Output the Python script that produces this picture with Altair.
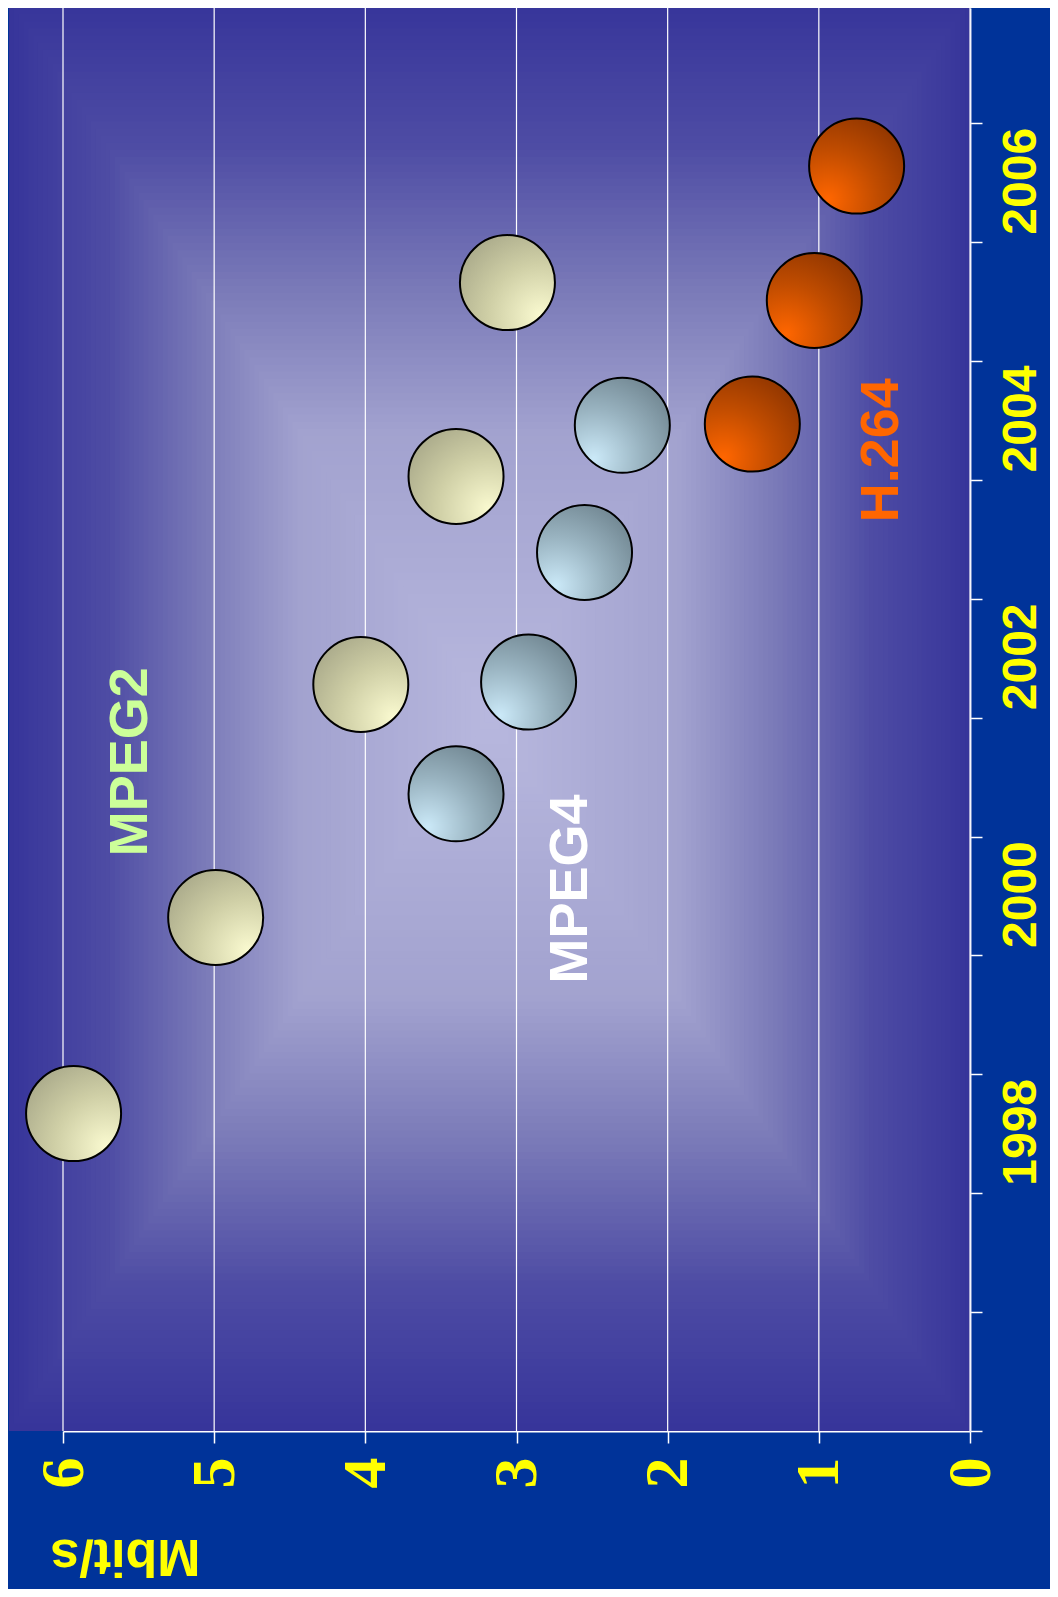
import altair as alt
import pandas as pd

# ---- data ----
mpeg2_rate = [5.93, 4.99, 4.03, 3.40, 3.06]
mpeg2_year = [1998.67, 2000.32, 2002.28, 2004.03, 2005.66]
mpeg4_rate = [3.40, 2.92, 2.55, 2.30]
mpeg4_year = [2001.36, 2002.30, 2003.39, 2004.46]
h264_rate = [1.44, 1.03, 0.75]
h264_year = [2004.47, 2005.51, 2006.64]

label_text = ["MPEG2", "MPEG4", "H.264"]
label_rate = [5.55, 2.64, 0.58]
label_year = [2001.63, 2000.56, 2004.25]
label_color = ["#ccff99", "#ffffff", "#ff6600"]

rate_ticks = [0, 1, 2, 3, 4, 5, 6]
year_ticks = list(range(1996, 2008))
year_labels = [1998, 2000, 2002, 2004, 2006]

YELLOW = "#ffff00"

x_axis = alt.Axis(
    values=rate_ticks, format="d", title="Mbit/s", grid=False,
    domainColor="#ffffff", domainWidth=2, tickColor="#ffffff", tickWidth=1.5, tickSize=12,
    labelFont="Liberation Serif", labelFontWeight="bold", labelFontSize=62, labelColor=YELLOW,
    labelAngle=270, labelAlign="right", labelBaseline="middle", labelPadding=14,
    labelFlush=False, labelOverlap=False, labelBound=False,
    titleFont="Liberation Sans", titleFontWeight="bold", titleFontSize=52, titleColor=YELLOW,
    titleAngle=180, titleAlign="center", titleBaseline="middle", titleX=62, titleY=124,
)
y_axis = alt.Axis(
    orient="right", values=year_ticks, format="d",
    labelExpr="indexof(" + str(year_labels) + ", datum.value) >= 0 ? datum.label : ''",
    grid=False, title="",
    domainColor="#e4e4f4", domainWidth=2, tickColor="#ffffff", tickWidth=1.5, tickSize=12,
    labelFont="Liberation Sans", labelFontWeight="bold", labelFontSize=48, labelColor=YELLOW,
    labelAngle=270, labelAlign="left", labelBaseline="top", labelPadding=15, labelOffset=-8,
    labelFlush=False, labelOverlap=False, labelBound=False,
)

X = alt.X("v:Q", scale=alt.Scale(domain=[0, 6], reverse=True, nice=False, zero=False), axis=x_axis)
Y = alt.Y("yr:Q", scale=alt.Scale(domain=[1996, 2007.97], nice=False, zero=False), axis=y_axis)

# background: rectangular "from centre" gradient built from nested rects
cx, hw = 3.1785, 3.1785
cy, hh = 2002.02, 6.02
bg = alt.Chart(alt.sequence(0, 100, as_="i")).transform_calculate(
    d="1 - datum.i / 100",
).transform_calculate(
    v=f"{cx} + datum.d * {hw}",
    v2=f"{cx} - datum.d * {hw}",
    yr=f"{cy} - datum.d * {hh}",
    yr2=f"{cy} + datum.d * {hh}",
).mark_rect(strokeWidth=0).encode(
    x=X, x2="v2:Q", y=Y, y2="yr2:Q",
    fill=alt.Fill("d:Q", scale=alt.Scale(domain=[0, 0.4, 0.6, 0.8, 1],
                                         range=["#b8b8de", "#a2a2cf", "#7a7ab8", "#4e4ca4", "#37359a"],
                                         interpolate="rgb"), legend=None),
)

rules = alt.Chart(pd.DataFrame({"v": rate_ticks})).mark_rule(color="#ffffff", strokeWidth=1.2).encode(x=X)


def grad(cxg, cyg, r, c0, c1, c2):
    return alt.RadialGradient(
        gradient="radial",
        stops=[alt.GradientStop(color=c0, offset=0), alt.GradientStop(color=c1, offset=0.5),
               alt.GradientStop(color=c2, offset=1)],
        x1=cxg, y1=cyg, r1=0, x2=cxg, y2=cyg, r2=r,
    )


def bubbles(rate, year, g):
    df = pd.DataFrame({"v": rate, "yr": year})
    return alt.Chart(df).mark_circle(size=9025, fill=g, stroke="#000000", strokeWidth=2,
                                     opacity=1, fillOpacity=1).encode(x=X, y=Y)


b2 = bubbles(mpeg2_rate, mpeg2_year, grad(0.85, 0.85, 1.1, "#fafad0", "#cfcfa6", "#a4a486"))
b4 = bubbles(mpeg4_rate, mpeg4_year, grad(0.2, 0.85, 1.05, "#cbe9f8", "#98b2bf", "#6c818c"))
bh = bubbles(h264_rate, h264_year, grad(0.2, 0.85, 1.05, "#ff6600", "#c04c00", "#8a3300"))

labels = pd.DataFrame({"label": label_text, "v": label_rate, "yr": label_year, "col": label_color})
txt = alt.Chart(labels).mark_text(angle=270, font="Liberation Sans", fontWeight="bold", fontSize=54,
                                  align="center", baseline="middle").encode(
    x=X, y=Y, text="label:N", color=alt.Color("col:N", scale=None)
)

chart = alt.layer(bg, rules, b2, b4, bh, txt).properties(
    width=907, height=1423,
    autosize=alt.AutoSizeParams(type="none"),
    padding={"left": 55, "top": 0, "right": 80, "bottom": 158},
    background="#003399",
).configure_view(strokeWidth=0)

chart.save("out.html", embed_options={"renderer": "svg", "actions": False})
